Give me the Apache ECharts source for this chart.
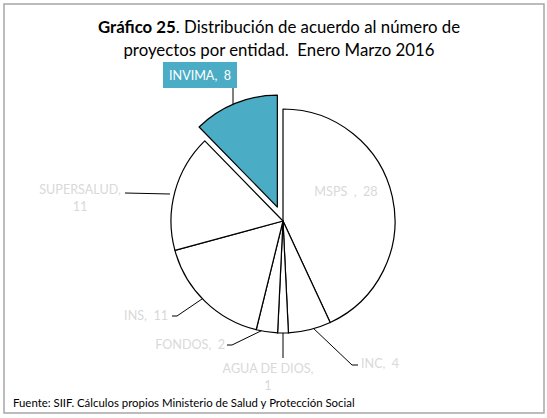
<!DOCTYPE html>
<html>
<head>
<meta charset="utf-8">
<script src="https://cdn.jsdelivr.net/npm/echarts@6/dist/echarts.min.js"></script>
<style>
  html, body { margin: 0; padding: 0; background: #ffffff; }
  #chart { width: 547px; height: 418px; }
</style>
</head>
<body>
<div id="chart"></div>
<script>
var entidades = ['MSPS', 'INC', 'AGUA DE DIOS', 'FONDOS', 'INS', 'SUPERSALUD', 'INVIMA'];
var proyectos = [28, 4, 1, 2, 11, 11, 8];
var etiquetas = ['MSPS  ,  28', 'INC,  4', 'AGUA DE DIOS,\n1', 'FONDOS,  2', 'INS,  11', 'SUPERSALUD,\n11', 'INVIMA,  8'];
var destacada = 'INVIMA';

var teal = '#4bacc6';
var labelGray = '#d9d9d9';
var fontFam = 'Lato, "Open Sans", sans-serif';

var cx = 283, cy = 221, radio = 112, explode = 15;

// where each label sits and how its leader line runs (order follows entidades)
var labelPlaces = [
  { x: 346, y: 191, align: 'center', line: null },
  { x: 361, y: 363, align: 'left', line: [[312, 327], [352, 365], [358, 365]] },
  { x: 268, y: 377, align: 'center', line: [[283, 330], [283, 358]] },
  { x: 225, y: 344, align: 'right', line: [[267, 328], [232, 345], [227, 345]] },
  { x: 168, y: 315, align: 'right', line: [[202, 299], [177, 316], [172, 316]] },
  { x: 80, y: 198, align: 'center', line: [[170, 194], [125, 193]] },
  { x: 200, y: 75, align: 'center', line: [[233, 107], [233, 86]] }
];

// offset of the pulled-out slice along its middle angle
var total = proyectos.reduce(function(a, b) { return a + b; }, 0);
var hi = entidades.indexOf(destacada);
var before = proyectos.slice(0, hi).reduce(function(a, b) { return a + b; }, 0);
var midAng = (before + proyectos[hi] / 2) / total * 2 * Math.PI;
var offX = explode * Math.sin(midAng);
var offY = -explode * Math.cos(midAng);

var hidden = { color: 'rgba(0,0,0,0)', borderWidth: 0 };

var baseData = entidades.map(function(name, i) {
  var item = {
    name: name,
    value: proyectos[i],
    label: { formatter: etiquetas[i] },
    labelLine: { show: labelPlaces[i].line !== null }
  };
  if (i === hi) {
    item.itemStyle = hidden;
    item.label = { show: false };
    item.labelLine = { show: false };
  }
  return item;
});

var popData = entidades.map(function(name, i) {
  if (i !== hi) {
    return { name: name, value: proyectos[i], itemStyle: hidden, label: { show: false }, labelLine: { show: false } };
  }
  return {
    name: name,
    value: proyectos[i],
    itemStyle: { color: teal, borderColor: '#000000', borderWidth: 1.2 },
    label: {
      show: true,
      formatter: etiquetas[i],
      color: '#ffffff',
      backgroundColor: teal,
      padding: [5, 6, 4, 6]
    },
    labelLine: { show: true }
  };
});

function layoutLabel(params) {
  var p = labelPlaces[params.dataIndex];
  var out = { x: p.x, y: p.y, align: p.align, verticalAlign: 'middle' };
  if (p.line) out.labelLinePoints = p.line;
  return out;
}

var chart = echarts.init(document.getElementById('chart'), null, { renderer: 'svg' });

chart.setOption({
  animation: false,
  backgroundColor: '#ffffff',
  title: [{
    text: '{b|Gráfico 25}. Distribución de acuerdo al número de\nproyectos por entidad.  Enero Marzo 2016',
    left: 279,
    top: 15,
    textAlign: 'center',
    padding: 0,
    textStyle: {
      fontFamily: fontFam,
      fontSize: 16.8,
      fontWeight: 'normal',
      color: '#000000',
      lineHeight: 23,
      rich: {
        b: { fontFamily: fontFam, fontSize: 16.8, fontWeight: 'bold', color: '#000000', lineHeight: 23 }
      }
    }
  }, {
    text: 'Fuente: SIIF. Cálculos propios Ministerio de Salud y Protección Social',
    left: 13,
    top: 397,
    padding: 0,
    textStyle: { fontFamily: fontFam, fontSize: 11.4, fontWeight: 'normal', color: '#000000' }
  }],
  graphic: [{
    type: 'rect',
    shape: { x: 4, y: 4, width: 540, height: 409 },
    style: { fill: 'none', stroke: '#a6a6a6', lineWidth: 1.5 },
    silent: true
  }],
  series: [{
    type: 'pie',
    center: [cx, cy],
    radius: radio,
    startAngle: 90,
    clockwise: true,
    avoidLabelOverlap: false,
    silent: true,
    itemStyle: { color: '#ffffff', borderColor: '#000000', borderWidth: 1.2 },
    label: {
      show: true,
      position: 'outside',
      color: labelGray,
      fontFamily: fontFam,
      fontSize: 12.6,
      lineHeight: 17
    },
    labelLine: { show: true, lineStyle: { color: '#000000', width: 1 } },
    labelLayout: layoutLabel,
    data: baseData
  }, {
    type: 'pie',
    center: [cx + offX, cy + offY],
    radius: radio,
    startAngle: 90,
    clockwise: true,
    avoidLabelOverlap: false,
    silent: true,
    itemStyle: { color: '#ffffff', borderColor: '#000000', borderWidth: 1.2 },
    label: {
      show: true,
      position: 'outside',
      color: '#ffffff',
      fontFamily: fontFam,
      fontSize: 12.6,
      lineHeight: 17
    },
    labelLine: { show: true, lineStyle: { color: '#000000', width: 1 } },
    labelLayout: layoutLabel,
    data: popData
  }]
});
</script>
</body>
</html>
